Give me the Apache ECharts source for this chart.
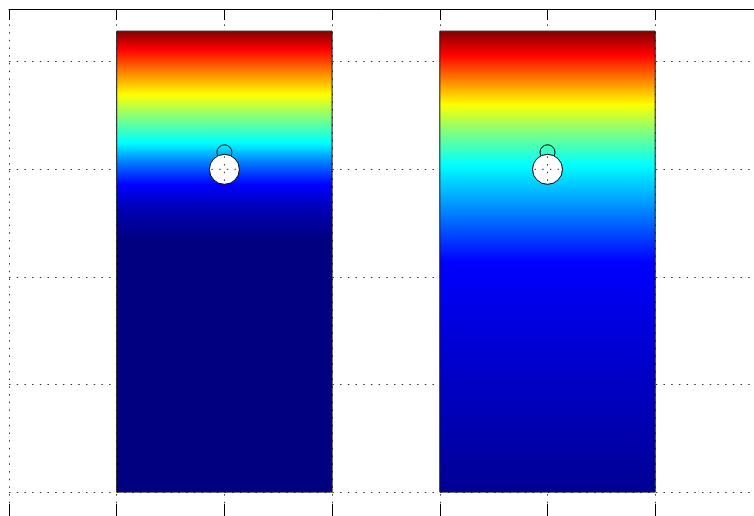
<!DOCTYPE html>
<html><head><meta charset="utf-8">
<script src="https://cdn.jsdelivr.net/npm/echarts@6/dist/echarts.min.js"></script>
<style>html,body{margin:0;padding:0;background:#fff}#c{width:754px;height:516px}</style>
</head><body><div id="c"></div>
<script>
// ---- data ----
const xMin = 0, xMax = 7, xStep = 1;
const yMin = -1, yMax = 4.49, yStep = 1;
const panelIndex = [0, 1];
const panelLeft = [1, 4];
const panelRight = [3, 6];
const panelTop = [4.284, 4.284];
const panelBottom = [0, 0];
// colour level (0..1 on jet scale) read at heights within each panel
const leftLevels  = [4.284, 4.108, 3.903, 3.690, 3.476, 3.243, 3.067, 2.853, 2.621, 2.342, 0];
const leftValues  = [1, 0.875, 0.75, 0.625, 0.5, 0.375, 0.25, 0.125, 0.05, 0.0, 0.0];
const rightLevels = [4.284, 4.061, 3.829, 3.597, 3.346, 3.039, 2.593, 2.138, 1.506, 0.669, 0];
const rightValues = [1, 0.875, 0.75, 0.625, 0.5, 0.375, 0.25, 0.125, 0.09, 0.05, 0.02];
const holeX = [2, 5];
const holeY = [3, 3];

// ---- helpers ----
const profiles = [
  {levels: leftLevels, values: leftValues},
  {levels: rightLevels, values: rightValues}
];
function jet(v) {
  const c = t => Math.round(255 * Math.max(0, Math.min(1, t)));
  return 'rgb(' + c(1.5 - Math.abs(4 * v - 3)) + ',' + c(1.5 - Math.abs(4 * v - 2)) + ',' + c(1.5 - Math.abs(4 * v - 1)) + ')';
}
const dotted = {color: '#333333', width: 1, type: [1.5, 6.2]};
const UX = 107.7, UY = 107.6;

const panelData = panelIndex.map((p, i) => [p, panelLeft[i], panelRight[i], panelTop[i], panelBottom[i]]);
const holeData = holeX.map((x, i) => [x, holeY[i]]);

const chart = echarts.init(document.getElementById('c'), null, {renderer: 'canvas'});
chart.setOption({
  animation: false,
  backgroundColor: '#ffffff',
  grid: {left: 9, top: 9, width: (xMax - xMin) * UX, height: (yMax - yMin) * UY, containLabel: false, outerBoundsMode: 'none'},
  xAxis: [
    {type: 'value', position: 'top', min: xMin, max: xMax, interval: xStep,
     axisLine: {show: true, onZero: false, lineStyle: {color: '#000', width: 1}},
     axisTick: {show: true, inside: true, length: 11, lineStyle: {color: '#000', width: 1}},
     axisLabel: {show: false},
     splitLine: {show: true, lineStyle: dotted}},
    {type: 'value', position: 'bottom', offset: -((yMax - yMin) * UY + 9 - 516), min: xMin, max: xMax, interval: xStep,
     axisLine: {show: true, onZero: false, lineStyle: {color: '#000', width: 1}},
     axisTick: {show: true, inside: true, length: 12, lineStyle: {color: '#000', width: 1}},
     axisLabel: {show: false},
     splitLine: {show: false}}
  ],
  yAxis: {type: 'value', min: yMin, max: yMax, interval: yStep,
    axisLine: {show: false, onZero: false}, axisTick: {show: false}, axisLabel: {show: false},
    splitLine: {show: true, lineStyle: dotted}},
  series: [
    {type: 'custom', xAxisIndex: 0, yAxisIndex: 0, z: 2,
     data: panelData,
     renderItem: function (params, api) {
       const idx = api.value(0);
       const p0 = api.coord([api.value(1), api.value(3)]);
       const p1 = api.coord([api.value(2), api.value(4)]);
       const h = p1[1] - p0[1];
       const prof = profiles[idx];
       const stops = prof.levels.map((lv, k) => {
         const py = api.coord([0, lv])[1];
         return {offset: Math.max(0, Math.min(1, (py - p0[1]) / h)), color: jet(prof.values[k])};
       });
       return {type: 'rect',
         shape: {x: p0[0], y: p0[1], width: p1[0] - p0[0], height: h},
         style: {fill: {type: 'linear', x: 0, y: 0, x2: 0, y2: 1, colorStops: stops}, stroke: '#1a1a1a', lineWidth: 1}};
     }},
    {type: 'custom', xAxisIndex: 0, yAxisIndex: 0, z: 3,
     data: holeData,
     renderItem: function (params, api) {
       const c = api.coord([api.value(0), api.value(1)]);
       const r = 15, rc = 7.5;
       return {type: 'group', children: [
         {type: 'circle', shape: {cx: c[0], cy: c[1] - 17, r: rc}, style: {fill: 'transparent', stroke: '#000', lineWidth: 1}},
         {type: 'circle', shape: {cx: c[0], cy: c[1], r: r}, style: {fill: '#fff', stroke: '#000', lineWidth: 1}},
         {type: 'line', shape: {x1: c[0] - r + 2, y1: c[1], x2: c[0] + r - 2, y2: c[1]}, style: {stroke: dotted.color, lineWidth: 1, lineDash: dotted.type}},
         {type: 'line', shape: {x1: c[0], y1: c[1] - r + 2, x2: c[0], y2: c[1] + r - 2}, style: {stroke: dotted.color, lineWidth: 1, lineDash: dotted.type}}
       ]};
     }}
  ]
});
</script>
</body></html>
